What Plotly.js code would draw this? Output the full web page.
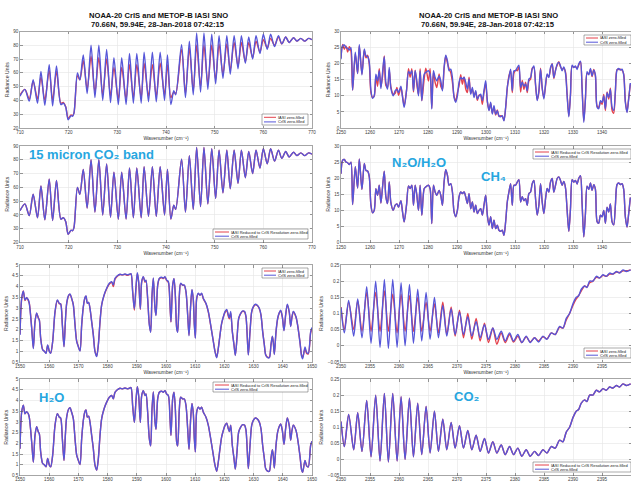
<!DOCTYPE html>
<html>
<head>
<meta charset="utf-8">
<script src="https://cdn.plot.ly/plotly-3.0.1.min.js"></script>
<style>
  html, body { margin: 0; padding: 0; background: #fff; }
  #chart { width: 631px; height: 482px; }
</style>
</head>
<body>
<div id="chart"></div>
<script>
// ---------- 15 micron CO2 band (710-770 cm-1) ----------
const lwWn = [710.0,711.0,711.9,712.7,713.6,714.3,715.1,716.0,716.7,717.5,
  718.4,718.9,719.4,719.9,720.5,720.8,721.1,721.8,722.3,723.0,
  723.8,724.6,725.4,726.2,727.0,727.8,728.6,729.3,730.2,730.9,
  731.8,732.5,733.3,734.0,734.9,735.5,736.4,737.2,738.0,738.8,
  739.7,740.3,741.0,741.6,742.0,743.2,744.0,744.8,745.6,746.3,
  747.1,747.8,748.6,749.4,750.2,750.9,751.7,752.5,753.2,754.0,
  754.8,755.5,756.3,757.0,757.8,758.5,759.3,760.0,760.8,761.5,
  762.3,763.1,763.8,764.6,765.3,766.2,766.9,767.7,768.5,769.3,770.0];
const lwCris = [43,48,39.5,55,38,61,36.5,66,36,65,
  37,38,35,26,29,28.5,31,60,55,73,
  45,80,42,80,40,77,38.5,71,37,71,
  37,74,38,74,38,75,39,75,39,75,
  40,73,37,47,44,80.5,42,83,44,89,
  46,89,48,88,52,87,56,87,59,87,
  63,87,67,86,70,87,74,88,77,88,
  79,87,81,86,82,85.5,83,85,83,85,84];
const lwIasi = [44,48,41,54,41,57,40,62,40,61,
  38,38.5,35.5,27,29.5,29,31,58,55,69,
  48,72,46,71,44,70,43,64,41,64,
  41,66,42,66,42,67,43,66,43,67,
  44,66,42,46,45,77,45,78,47,80,
  50,80,52,80,55,81,59,81,62,82,
  65,82,68,82,71,83,75,84,78,85,
  80,86,81,86,82,85.5,83,85,83,85,84];
// IASI reduced to CrIS resolution coincides with CrIS at this scale
const lwIasiReduced = lwCris;

// ---------- N2O / H2O / CH4 region (1250-1350 cm-1) ----------
const n2oWn = [1250.00,1250.57,1251.15,1251.72,1252.29,1252.87,1253.44,1254.01,1254.93,1255.73,
  1256.31,1257.22,1258.03,1258.60,1259.17,1259.75,1260.32,1260.89,1261.47,1262.04,
  1262.61,1263.19,1263.76,1264.33,1264.91,1265.48,1266.06,1266.63,1267.20,1268.00,
  1268.69,1269.27,1269.84,1270.64,1271.22,1271.79,1272.59,1273.28,1273.85,1274.43,
  1275.00,1275.57,1276.15,1276.72,1277.29,1277.87,1278.67,1279.24,1280.16,1280.73,
  1281.31,1281.88,1282.45,1283.03,1283.83,1284.40,1284.98,1285.55,1286.12,1286.70,
  1287.27,1287.84,1288.42,1288.99,1289.56,1290.14,1290.71,1291.28,1291.86,1292.43,
  1293.00,1293.58,1294.15,1294.72,1295.30,1295.87,1296.44,1297.02,1297.59,1298.17,
  1298.74,1299.31,1299.89,1300.46,1301.03,1301.61,1302.18,1302.75,1303.33,1303.90,
  1304.47,1305.05,1305.62,1306.19,1306.77,1307.34,1307.91,1308.49,1309.06,1309.63,
  1310.21,1310.78,1311.35,1311.93,1312.50,1313.07,1313.65,1314.22,1314.79,1315.37,
  1315.94,1316.51,1317.09,1317.66,1318.23,1318.81,1319.38,1319.95,1320.53,1321.10,
  1321.67,1322.25,1322.82,1323.39,1323.97,1324.54,1325.11,1325.69,1326.26,1326.83,
  1327.41,1327.98,1328.56,1329.13,1329.70,1330.28,1330.85,1331.42,1332.00,1332.57,
  1333.14,1333.72,1334.29,1334.86,1335.44,1336.01,1336.58,1337.16,1337.73,1338.30,
  1338.88,1339.45,1340.02,1340.60,1341.17,1341.74,1342.32,1342.89,1343.46,1344.04,
  1344.61,1345.18,1345.76,1346.33,1346.90,1347.48,1348.05,1348.62,1349.20,1349.77];
const n2oCris = [21.4,25.6,25.8,25.0,24.8,24.2,25.0,11.8,23.6,16.9,
  26.0,16.5,24.6,22.4,22.2,20.4,11.6,9.2,10.0,16.7,
  14.7,17.8,12.3,17.3,22.2,14.2,12.1,18.8,12.4,10.0,
  11.6,12.0,11.0,13.0,9.5,6.4,11.6,17.6,16.8,17.8,
  11.6,17.8,14.7,10.0,17.8,8.5,16.7,17.3,17.8,16.7,
  5.9,17.8,15.7,14.7,16.2,14.7,11.6,18.8,22.6,20.9,
  17.8,18.3,15.7,9.5,8.0,10.0,14.2,15.7,15.2,15.7,
  14.2,12.1,15.2,10.5,12.6,9.5,11.6,9.0,10.0,10.5,
  8.5,11.6,14.7,8.5,5.4,8.0,4.3,6.9,4.3,5.4,
  3.8,3.5,3.8,2.2,6.4,12.6,15.7,18.3,11.6,17.8,
  17.8,18.8,19.5,12.6,14.2,13.0,13.6,11.6,15.2,15.7,
  18.3,19.3,13.6,8.5,11.6,18.3,12.6,9.0,13.6,16.8,
  15.7,18.8,19.9,15.7,17.8,19.9,20.4,19.3,17.8,19.0,
  17.0,10.0,3.5,10.5,19.5,18.8,19.3,18.2,20.0,20.8,
  12.0,1.8,9.0,17.5,16.5,18.5,16.2,18.0,16.5,6.5,
  6.0,8.5,8.0,10.0,6.0,11.0,9.5,12.0,6.5,5.5,
  11.5,18.0,18.5,18.0,18.3,16.5,8.0,4.8,9.0,14.0];
const n2oIasi = [21.8,26.0,24.5,25.5,23.6,25.3,23.8,11.8,23.0,16.9,
  25.5,16.8,24.2,21.8,22.6,19.8,11.0,9.5,10.0,16.0,
  13.0,18.4,12.8,16.0,22.4,13.2,12.6,18.0,12.8,10.5,
  10.8,12.6,10.2,12.5,10.0,6.8,11.6,18.4,15.8,18.4,
  11.2,18.0,13.5,10.4,18.4,8.5,15.2,18.6,14.6,18.4,
  6.2,17.2,14.2,12.6,16.8,13.0,12.0,18.4,22.4,20.2,
  18.4,17.2,14.2,9.8,8.4,11.0,13.2,16.6,13.6,15.9,
  12.2,11.0,15.8,10.8,12.0,10.0,11.2,8.6,10.2,10.0,
  7.4,11.2,13.8,8.2,5.6,7.6,4.6,6.5,4.0,5.6,
  3.6,3.8,3.6,2.4,6.2,12.4,16.2,17.8,11.0,17.0,
  18.0,17.8,19.0,11.2,14.8,12.0,14.2,11.0,14.6,15.2,
  18.6,18.8,13.2,8.8,11.0,18.6,12.2,9.4,13.0,16.5,
  16.0,18.4,20.0,15.4,18.0,19.5,20.6,19.0,18.2,18.6,
  17.4,10.4,3.8,10.2,19.2,19.0,19.0,18.6,19.6,20.6,
  12.4,2.2,9.2,17.0,16.8,18.2,16.0,18.2,16.0,6.8,
  6.4,8.0,7.4,10.4,5.4,11.2,9.0,12.4,5.6,4.6,
  11.0,18.2,18.2,18.3,18.0,16.8,8.4,5.0,9.2,13.6];
const n2oIasiReduced = n2oCris;

// ---------- H2O band (1550-1650 cm-1) ----------
const h2oWn = [1550.00,1550.57,1551.14,1551.71,1552.28,1552.85,1553.20,1554.00,1554.57,1555.14,
  1555.71,1556.28,1556.62,1557.08,1557.76,1558.33,1558.90,1559.47,1560.05,1560.50,
  1561.19,1561.99,1562.79,1563.47,1563.93,1564.50,1565.07,1565.53,1565.98,1566.67,
  1567.12,1567.69,1568.26,1568.84,1569.41,1569.98,1570.55,1571.12,1571.69,1572.26,
  1572.60,1573.06,1573.52,1573.97,1574.54,1575.11,1575.68,1576.26,1576.83,1577.40,
  1577.97,1578.77,1579.68,1580.59,1581.39,1581.96,1582.53,1583.33,1584.25,1585.16,
  1585.96,1586.76,1587.44,1588.01,1588.58,1589.16,1589.73,1590.18,1590.64,1591.21,
  1591.67,1592.24,1592.81,1593.15,1593.72,1594.29,1594.75,1595.21,1595.66,1596.23,
  1596.58,1597.15,1597.72,1598.52,1599.09,1599.66,1600.23,1600.80,1601.37,1601.71,
  1602.28,1602.74,1603.20,1603.65,1604.00,1604.57,1605.02,1605.71,1606.28,1606.85,
  1607.42,1607.88,1608.45,1608.90,1609.36,1609.70,1610.05,1610.50,1611.07,1611.64,
  1612.21,1612.79,1613.70,1614.50,1615.30,1616.21,1616.78,1617.35,1617.92,1618.49,
  1619.06,1619.63,1620.21,1620.78,1621.35,1621.69,1622.15,1622.72,1623.29,1623.74,
  1624.32,1624.89,1625.57,1626.26,1626.94,1627.40,1627.85,1628.20,1628.77,1629.34,
  1629.91,1630.59,1631.28,1631.96,1632.53,1633.11,1633.68,1634.13,1634.82,1635.39,
  1635.96,1636.42,1636.76,1637.10,1637.67,1638.24,1638.81,1639.27,1639.84,1640.41,
  1640.98,1641.55,1642.24,1642.69,1643.15,1643.61,1644.52,1645.09,1645.89,1646.46,
  1646.80,1647.60,1648.17,1648.74,1649.54,1650.00];
const h2oCris = [1.75,3.45,3.78,3.38,3.48,3.38,3.2,2.06,1.12,2.37,
  2.78,2.53,2.45,1.6,1.06,1.0,0.9,1.29,0.98,0.9,
  1.45,2.84,3.38,3.22,3.18,2.22,1.2,2.37,3.22,3.6,
  3.66,3.45,3.15,2.22,1.45,1.21,1.01,2.22,3.07,3.5,
  3.56,3.22,3.27,2.99,2.37,1.75,0.98,0.75,1.29,2.37,
  3.15,3.6,3.92,4.15,4.23,4.08,4.38,4.5,4.57,4.54,
  4.58,4.54,4.57,4.6,3.76,2.97,4.0,4.64,4.23,2.97,
  4.23,4.46,4.23,4.3,3.45,2.22,1.88,3.6,4.4,3.0,
  2.65,4.07,4.38,4.43,4.38,4.46,4.3,4.23,3.15,2.37,
  4.07,4.38,3.6,2.06,1.88,3.6,4.15,4.07,4.07,3.76,
  2.68,1.72,3.15,3.86,3.38,2.22,1.6,3.45,3.69,3.6,
  3.69,3.45,3.22,2.84,2.22,1.45,0.98,0.7,1.14,1.75,
  2.3,2.6,2.84,2.94,2.68,2.55,2.84,1.9,1.29,0.8,
  1.6,2.53,2.76,2.87,2.84,2.6,1.6,0.82,1.9,2.84,
  3.07,3.18,3.13,2.99,2.68,1.9,1.29,0.83,0.7,0.7,
  1.3,1.7,1.4,0.85,1.9,2.53,2.8,2.9,2.6,1.95,
  2.7,3.18,2.8,2.15,2.6,2.85,2.6,2.2,1.4,0.75,
  0.65,1.2,0.95,0.9,1.9,2.1];
const h2oIasi = [1.8,3.4,3.8,3.35,3.5,3.35,3.22,2.1,1.15,2.35,
  2.75,2.55,2.45,1.62,1.08,1.0,0.92,1.27,1.0,0.92,
  1.45,2.8,3.36,3.2,3.2,2.25,1.22,2.35,3.2,3.58,
  3.64,3.45,3.15,2.25,1.48,1.22,1.03,2.2,3.05,3.48,
  3.55,3.24,3.25,2.98,2.38,1.77,1.0,0.78,1.3,2.35,
  3.15,3.58,3.9,4.12,4.2,4.0,4.34,4.48,4.56,4.54,
  4.57,4.52,4.56,4.58,3.8,2.9,3.95,4.6,4.2,2.93,
  4.2,4.45,4.2,4.28,3.42,2.25,1.9,3.55,4.38,3.0,
  2.68,4.05,4.36,4.41,4.37,4.44,4.28,4.2,3.1,2.35,
  4.05,4.36,3.58,2.1,1.9,3.58,4.13,4.06,4.05,3.74,
  2.7,1.75,3.12,3.84,3.36,2.25,1.62,3.42,3.67,3.6,
  3.67,3.43,3.2,2.82,2.2,1.47,1.0,0.72,1.15,1.75,
  2.28,2.58,2.8,2.9,2.62,2.5,2.78,1.92,1.3,0.82,
  1.62,2.5,2.74,2.85,2.82,2.58,1.62,0.84,1.9,2.82,
  3.05,3.15,3.12,2.97,2.67,1.92,1.3,0.85,0.72,0.72,
  1.3,1.68,1.4,0.87,1.88,2.5,2.78,2.88,2.58,1.97,
  2.68,3.15,2.78,2.17,2.58,2.82,2.58,2.2,1.42,0.8,
  0.72,1.1,0.9,0.88,1.85,2.05];
const h2oIasiReduced = h2oCris;

// ---------- 4.3 micron CO2 band head (2350-2400 cm-1) ----------
const co2Wn = [2350.00,2350.58,2351.32,2352.19,2352.88,2353.62,2354.43,2355.18,2355.98,2356.73,
  2357.48,2358.17,2358.92,2359.67,2360.36,2361.05,2361.80,2362.49,2363.23,2363.92,
  2364.67,2365.36,2366.11,2366.80,2367.55,2368.24,2368.99,2369.68,2370.43,2371.12,
  2371.86,2372.55,2373.30,2373.99,2374.74,2375.43,2376.18,2376.87,2377.62,2378.31,
  2379.06,2379.75,2380.49,2381.18,2381.93,2382.62,2383.37,2384.06,2384.81,2385.50,
  2386.25,2386.94,2387.69,2388.26,2388.84,2389.41,2389.99,2390.56,2390.97,2391.43,
  2392.00,2392.40,2392.87,2393.44,2394.02,2394.59,2395.17,2395.74,2396.32,2396.89,
  2397.47,2398.04,2398.62,2399.19,2399.94];
const co2Cris = [0.118,0.04,0.14,0.03,0.145,0.025,0.183,0.008,0.2,-0.005,
  0.205,-0.008,0.205,-0.005,0.195,0.0,0.19,0.008,0.175,0.015,
  0.165,0.02,0.15,0.025,0.125,0.03,0.115,0.035,0.105,0.035,
  0.09,0.03,0.075,0.025,0.065,0.02,0.055,0.02,0.045,0.015,
  0.04,0.015,0.035,0.01,0.03,0.01,0.025,0.012,0.03,0.02,
  0.04,0.035,0.06,0.055,0.085,0.1,0.13,0.15,0.155,0.175,
  0.185,0.18,0.2,0.2,0.215,0.21,0.22,0.215,0.225,0.222,
  0.23,0.225,0.235,0.23,0.235];
const co2Iasi = [0.12,0.05,0.135,0.05,0.14,0.045,0.165,0.045,0.165,0.045,
  0.17,0.045,0.16,0.04,0.16,0.045,0.155,0.045,0.15,0.045,
  0.135,0.045,0.13,0.04,0.135,0.035,0.12,0.03,0.11,0.025,
  0.1,0.02,0.085,0.015,0.07,0.01,0.055,0.005,0.04,0.01,
  0.035,0.012,0.03,0.01,0.028,0.012,0.025,0.015,0.028,0.022,
  0.04,0.035,0.058,0.055,0.08,0.1,0.125,0.145,0.155,0.17,
  0.185,0.182,0.195,0.2,0.212,0.21,0.218,0.215,0.222,0.222,
  0.228,0.227,0.232,0.232,0.235];
const co2IasiReduced = co2Cris;

// ---------- tick labels ----------
const lwXTicks = [710,720,730,740,750,760,770];
const lwYTicks = [20,30,40,50,60,70,80,90];
const n2oXTicks = [1250,1260,1270,1280,1290,1300,1310,1320,1330,1340];
const n2oYTicks = [0,5,10,15,20,25,30];
const h2oXTicks = [1550,1560,1570,1580,1590,1600,1610,1620,1630,1640,1650];
const h2oYTicks = [0.5,1,1.5,2,2.5,3,3.5,4,4.5,5];
const co2XTicks = [2350,2355,2360,2365,2370,2375,2380,2385,2390,2395];
const co2YTicks = [-0.05,0,0.05,0.1,0.15,0.2,0.25];

const legendZeroFilled = ['IASI zero-filled', 'CrIS zero-filled'];
const legendReduced = ['IASI Reduced to CrIS Resolution zero-filled', 'CrIS zero-filled'];

const titleLine1 = 'NOAA-20 CrIS and METOP-B IASI SNO';
const titleLine2 = '70.66N, 59.94E, 28-Jan-2018 07:42:15';
const xTitleText = 'Wavenumber (cm\u207B\u00B9)';
const yTitleText = 'Radiance Units';

// ---------- layout helpers ----------
const W = 631, H = 482;
const fx = p => p / W;
const fy = p => 1 - p / H;
const RED = '#e4414b', BLUE = '#5656d8';
const FONT = 'Liberation Sans, DejaVu Sans, Arial, sans-serif';

const colPx = [[20, 312], [341, 631]];
const rowPx = [[31.5, 128], [146, 242.5], [265, 362], [379, 475.5]];

const panels = [
  {row:0, col:0, x:lwWn,  red:lwIasi,         blue:lwCris,  xt:lwXTicks,  yt:lwYTicks,  xr:[710,770],   yr:[20,90],       leg:[262,114,308,125], labels:legendZeroFilled},
  {row:0, col:1, x:n2oWn, red:n2oIasi,        blue:n2oCris, xt:n2oXTicks, yt:n2oYTicks, xr:[1250,1350], yr:[0,30],        leg:[584,35,631,45],   labels:legendZeroFilled},
  {row:1, col:0, x:lwWn,  red:lwIasiReduced,  blue:lwCris,  xt:lwXTicks,  yt:lwYTicks,  xr:[710,770],   yr:[20,90],       leg:[213,229,308,239], labels:legendReduced},
  {row:1, col:1, x:n2oWn, red:n2oIasiReduced, blue:n2oCris, xt:n2oXTicks, yt:n2oYTicks, xr:[1250,1350], yr:[0,30],        leg:[533,149,631,159], labels:legendReduced},
  {row:2, col:0, x:h2oWn, red:h2oIasi,        blue:h2oCris, xt:h2oXTicks, yt:h2oYTicks, xr:[1550,1650], yr:[0.5,5],       leg:[262,268,308,278], labels:legendZeroFilled},
  {row:2, col:1, x:co2Wn, red:co2Iasi,        blue:co2Cris, xt:co2XTicks, yt:co2YTicks, xr:[2350,2400], yr:[-0.05,0.25],  leg:[584,348,631,358], labels:legendZeroFilled},
  {row:3, col:0, x:h2oWn, red:h2oIasiReduced, blue:h2oCris, xt:h2oXTicks, yt:h2oYTicks, xr:[1550,1650], yr:[0.5,5],       leg:[213,382,308,392], labels:legendReduced},
  {row:3, col:1, x:co2Wn, red:co2IasiReduced, blue:co2Cris, xt:co2XTicks, yt:co2YTicks, xr:[2350,2400], yr:[-0.05,0.25],  leg:[533,462,631,472], labels:legendReduced}
];

const axisBase = {
  showline: true, linecolor: '#808080', linewidth: 0.7, mirror: 'ticks',
  ticks: 'inside', ticklen: 2.5, tickwidth: 0.6, tickcolor: '#555',
  showgrid: true, gridcolor: '#e4e4e4', gridwidth: 0.6, zeroline: false,
  tickfont: { family: FONT, size: 4.6, color: '#404040' },
  fixedrange: true
};

const traces = [];
const layout = {
  width: W, height: H,
  margin: { l: 0, r: 0, t: 0, b: 0 },
  paper_bgcolor: '#fff', plot_bgcolor: '#fff',
  showlegend: false,
  font: { family: FONT },
  shapes: [], annotations: []
};

panels.forEach((p, k) => {
  const sfx = k === 0 ? '' : String(k + 1);
  const xa = 'x' + sfx, ya = 'y' + sfx;
  const line = c => ({ color: c, width: 1.4, shape: 'spline', smoothing: 0.8 });
  traces.push({ type: 'scatter', mode: 'lines', x: p.x, y: p.red,  xaxis: xa, yaxis: ya, line: line(RED),  name: p.labels[0], hoverinfo: 'skip' });
  traces.push({ type: 'scatter', mode: 'lines', x: p.x, y: p.blue, xaxis: xa, yaxis: ya, line: line(BLUE), name: p.labels[1], hoverinfo: 'skip' });

  const cx = colPx[p.col], ry = rowPx[p.row];
  // the bottom row's axis title falls below the page edge
  const xTitle = p.row < 3
    ? { text: xTitleText, font: { family: FONT, size: 5, color: '#333' }, standoff: 2 }
    : { text: '' };
  layout['xaxis' + sfx] = Object.assign({}, axisBase, {
    domain: [fx(cx[0]), fx(cx[1])], range: p.xr, tickvals: p.xt, anchor: ya, title: xTitle,
    ticklabelstandoff: p.row === 3 ? -1 : 0
  });
  layout['yaxis' + sfx] = Object.assign({}, axisBase, {
    domain: [fy(ry[1]), fy(ry[0])], range: p.yr, tickvals: p.yt, anchor: xa,
    title: { text: yTitleText, font: { family: FONT, size: 5.2, color: '#333' }, standoff: 3 }
  });

  // small boxed key in the corner of each panel
  const b = p.leg;
  const lineLen = p.labels === legendReduced ? 14 : 12;
  const rows = [b[1] + (b[3] - b[1]) * 0.3, b[1] + (b[3] - b[1]) * 0.72];
  layout.shapes.push({ type: 'rect', xref: 'paper', yref: 'paper', x0: fx(b[0]), x1: fx(b[2]), y0: fy(b[3]), y1: fy(b[1]),
    line: { color: '#555', width: 0.5 }, fillcolor: '#fff', layer: 'above' });
  [RED, BLUE].forEach((c, i) => {
    layout.shapes.push({ type: 'line', xref: 'paper', yref: 'paper', x0: fx(b[0] + 2), x1: fx(b[0] + 2 + lineLen),
      y0: fy(rows[i]), y1: fy(rows[i]), line: { color: c, width: 1 }, layer: 'above' });
    layout.annotations.push({ xref: 'paper', yref: 'paper', x: fx(b[0] + lineLen + 3), y: fy(rows[i]),
      xanchor: 'left', yanchor: 'middle', showarrow: false, text: p.labels[i],
      font: { family: FONT, size: 4, color: '#222' }, borderpad: 0 });
  });
});

// figure titles
[[158, titleLine1, 15], [158, titleLine2, 24.5], [488, titleLine1, 15], [488, titleLine2, 24.5]].forEach(t => {
  layout.annotations.push({ xref: 'paper', yref: 'paper', x: fx(t[0]), y: fy(t[2]), xanchor: 'center', yanchor: 'middle',
    showarrow: false, text: '<b>' + t[1] + '</b>', font: { family: FONT, size: 7.6, color: '#111' } });
});

// band labels
const bandColor = '#26a6df';
[[91, 154, '15 micron CO\u2082 band'], [419, 162, 'N\u2082O/H\u2082O'], [493, 176, 'CH\u2084'],
 [51, 397, 'H\u2082O'], [467, 396, 'CO\u2082']].forEach(t => {
  layout.annotations.push({ xref: 'paper', yref: 'paper', x: fx(t[0]), y: fy(t[1]), xanchor: 'center', yanchor: 'middle',
    showarrow: false, text: '<b>' + t[2] + '</b>', font: { family: FONT, size: 13, color: bandColor } });
});

Plotly.newPlot('chart', traces, layout, { staticPlot: true, displayModeBar: false });
</script>
</body>
</html>
